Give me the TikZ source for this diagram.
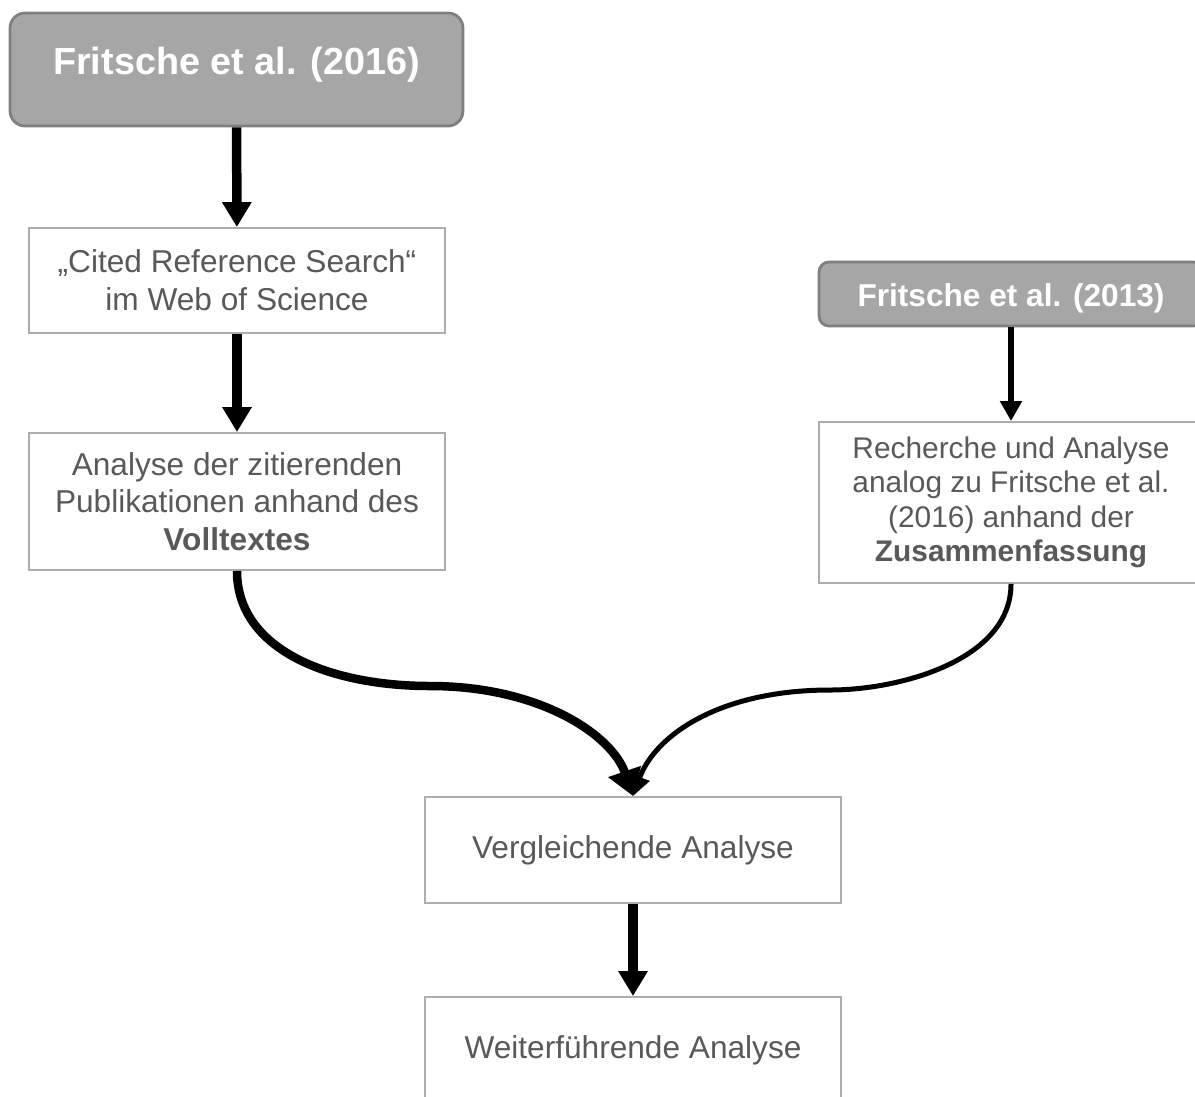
\documentclass[tikz,border=0pt]{standalone}
\usepackage{fontspec}
\setmainfont{Liberation Sans}
\usetikzlibrary{arrows.meta}
\definecolor{titlegray}{HTML}{A6A6A6}
\definecolor{framegray}{HTML}{7F7F7F}
\definecolor{linegray}{HTML}{ADADAD}
\definecolor{textgray}{HTML}{595959}

\begin{document}
\begin{tikzpicture}[x=0.02cm,y=-0.02cm,
        title/.style={draw=framegray, line width=1.6pt, fill=titlegray, rounded corners=0.3cm, text=white},
        box/.style={draw=linegray, line width=1.1pt, fill=white, text=textgray, align=center, minimum width=8.32cm, font=\fontsize{18}{21.5}\selectfont},
        bigarrow/.style={line width=0.19cm, -{Triangle[width=0.56cm,length=0.5cm]}},
        smallarrow/.style={line width=0.12cm, -{Triangle[width=0.42cm,length=0.4cm]}}]
        \path[use as bounding box, clip] (0,0) rectangle (1195,1096);
        \begin{scope}
            \node[title, minimum width=9.06cm, minimum height=2.26cm, text depth=0.36cm, font=\fontsize{21.5}{26}\bfseries] (f16) at (236.5,69.5) {Fritsche et al. (2016)};
            \node[box, minimum height=2.1cm] (crs) at (237,280.5) {„Cited Reference Search“\\im Web of Science};
            \node[box, minimum height=2.74cm] (voll) at (237,501.5) {Analyse der zitierenden\\Publikationen anhand des\\\textbf{Volltextes}};
            \draw[bigarrow] (f16) -- (crs);
            \draw[bigarrow] (crs) -- (voll);
        \end{scope}
        \begin{scope}
            \node[title, minimum width=7.68cm, minimum height=1.28cm, rounded corners=0.2cm, text height=0.62cm, font=\fontsize{18}{21.5}\bfseries] (f13) at (1011,294) {Fritsche et al. (2013)};
            \node[box, minimum width=7.68cm, minimum height=3.22cm, font=\fontsize{17}{19.6}\selectfont] (zus) at (1011,502.5) {Recherche und Analyse\\analog zu Fritsche et al.\\(2016) anhand der\\\textbf{Zusammenfassung}};
            \draw[smallarrow] (f13) -- (zus);
        \end{scope}
        \node[box, minimum height=2.12cm] (verg) at (633,850) {Vergleichende Analyse};
        \node[box, minimum height=2.12cm] (weiter) at (633,1050) {Weiterführende Analyse};
        \draw[line width=0.1cm, -{Triangle[width=0.4cm,length=0.4cm]}] (zus.south) .. controls (1011,660) and (900,690) .. (830,690) .. controls (720,690) and (655,735) .. (verg.north);
        \draw[line width=0.17cm, -{Triangle[width=0.66cm,length=0.52cm]}] (voll.south) .. controls (237,650) and (330,686) .. (430,686) .. controls (540,686) and (612,735) .. (verg.north);
        \draw[bigarrow] (verg) -- (weiter);
    \end{tikzpicture}
\end{document}
